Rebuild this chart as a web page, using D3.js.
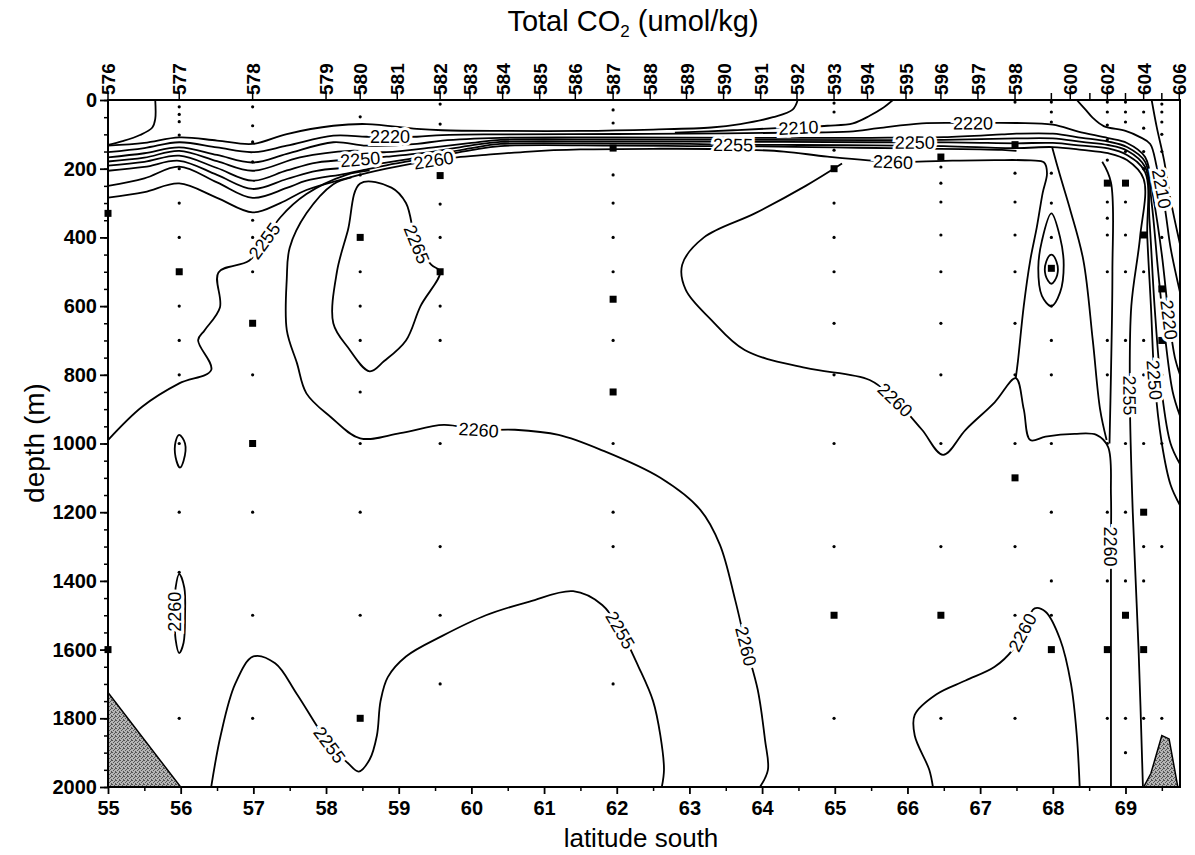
<!DOCTYPE html>
<html><head><meta charset="utf-8">
<script src="https://cdn.jsdelivr.net/npm/d3@7"></script>
<style>
body{margin:0;background:#fff;}
svg{font-family:"Liberation Sans",Arial,Helvetica,sans-serif;}
</style></head>
<body><svg id="c" width="1195" height="855"></svg>
<script>
// ---------------- data ----------------
const latTicks = d3.range(55, 70, 1);
const latMinor = d3.range(55.5, 70, 1);
const depthTicks = d3.range(0, 2001, 200);
const depthMinor = d3.range(0, 2001, 50);

const stationIds  = ["576","577","578","579","580","581","582","583","584","585","586","587","588","589","590","591","592","593","594","595","596","597","598","","600","","602","","604","","606"];
const stationLats = [55.0,55.98,56.99,58.0,58.47,58.98,59.57,59.98,60.43,60.94,61.43,61.95,62.46,62.96,63.47,63.98,64.48,64.99,65.45,65.98,66.46,66.97,67.48,67.98,68.24,68.51,68.75,69.0,69.25,69.5,69.74];

// sample depths (small dots) and larger square markers per sampled station
const sampleLats = [55.98,56.99,58.47,59.57,61.95,64.99,66.46,67.48,67.98,68.75,69.0,69.25,69.5];
const sampleDots = [
 [20,42,63,102,200,300,400,600,700,800,1000,1200,1375,1800],
 [20,75,122,180,350,400,500,800,1200,1500,1800],
 [49,218,500,600,700,850,1000,1200,1500],
 [12,70,303,400,600,700,1000,1300,1500,1700],
 [29,67,218,300,400,500,700,1000,1200,1300,1500,1700],
 [9,35,146,300,400,500,650,800,1000,1300,1800],
 [195,242,297,393,500,650,800,1000,1300,1800],
 [6,213,297,393,500,650,800,1000,1300,1500,1800],
 [6,35,64,213,300,400,600,700,800,1000,1200,1400,1500],
 [6,35,73,116,175,297,344,393,500,700,800,1000,1200,1400,1800],
 [6,35,64,150,297,393,500,700,1000,1200,1400,1800,1900],
 [35,82,150,200,500,700,800,1000,1300,1400,1800],
 [12,35,64,100,150,300,400,800,1000,1300,1800]
];
const squareLats   = [55.0,55.0,55.98,55.98,56.99,56.99,58.47,58.47,59.57,59.57,61.95,61.95,61.95,64.99,64.99,66.46,66.46,67.48,67.48,67.98,67.98,68.75,68.75,69.0,69.0,69.25,69.25,69.25,69.5,69.5];
const squareDepths = [330,1600,500,1500,650,1000,400,1800,220,500,140,580,850,200,1500,166,1500,130,1100,490,1600,242,1600,242,1500,393,1200,1600,550,700];

// contour lines: [lat, depth] vertices; lab = indices of labelled vertices
const contours = [
 {v:2200, p:[[55.65,0],[55.65,55],[55.61,80],[55.44,102],[55.2,120],[55,131]]},
 {v:2210, p:[[55,133],[55.5,125],[55.98,109],[56.5,118],[56.99,128],[57.46,99],[58.1,75],[58.56,70],[59.25,84],[59.6,88],[60.4,90],[61.5,90],[62.5,86],[63.3,80],[63.7,70],[64.15,50],[64.42,28],[64.49,0]]},
 {v:2210, p:[[62.8,95],[63.6,88],[64.2,82],[64.5,80],[64.9,75],[65.25,68],[65.48,46],[65.65,25],[65.8,0]], lab:[3]},
 {v:2220, p:[[55,152],[55.5,140],[55.98,123],[56.5,138],[56.99,152],[57.46,133],[58.1,104],[58.56,107],[58.88,107],[59.25,107],[59.6,102],[60.4,100],[62,99],[63.5,97],[64.5,95],[65.2,92],[65.6,82],[66.2,68],[66.9,67],[67.5,67],[68.0,72],[68.35,92],[68.76,111],[69.02,125],[69.27,166],[69.38,280],[69.5,450],[69.6,640],[69.68,750],[69.75,800]], lab:[8,18,27]},
 {v:2230, p:[[55,167],[55.5,155],[55.98,138],[56.5,160],[56.99,182],[57.46,157],[58.1,123],[58.56,133],[59.25,128],[59.6,118],[60.4,110],[62,109],[64,110],[65.5,110],[66.5,108],[67.3,100],[67.5,98],[68.0,98],[68.4,110],[68.76,121],[69.02,137],[69.27,180],[69.36,300],[69.45,500],[69.55,700],[69.65,850],[69.75,920]]},
 {v:2240, p:[[55,179],[55.5,168],[55.98,148],[56.5,178],[56.99,206],[57.64,167],[58.33,148],[58.83,152],[59.48,138],[60,125],[60.4,116],[62,115],[64,116],[65.5,117],[66.5,116],[67.5,112],[68.0,112],[68.4,122],[68.76,131],[69.02,147],[69.27,195],[69.33,350],[69.4,600],[69.5,850],[69.62,1000],[69.75,1060]]},
 {v:2250, p:[[55,191],[55.5,180],[55.98,162],[56.5,198],[56.99,235],[57.46,205],[57.87,182],[58.47,172],[58.83,165],[59.48,150],[60,132],[60.4,122],[62,121],[64,122],[65.5,123],[66.1,123],[66.8,124],[67.5,126],[68.0,125],[68.4,133],[68.76,141],[69.02,160],[69.27,210],[69.3,400],[69.35,600],[69.4,815],[69.5,1000],[69.62,1120],[69.75,1180]], lab:[7,15,25]},
 {v:2255, p:[[55,206],[55.5,195],[55.98,177],[56.5,218],[56.99,259],[57.46,230],[57.87,206],[58.33,196],[58.83,182],[59.48,160],[60,140],[60.4,128],[62,127],[63.0,128],[63.6,130],[64.5,131],[65.5,132],[66.5,134],[67.5,140],[68.0,137],[68.4,145],[68.76,155],[69.02,175],[69.25,230],[69.2,400],[69.08,600],[69.06,860],[69.1,1200],[69.18,1600],[69.24,2000]], lab:[14,26]},
 {v:2255, p:[[55,250],[55.5,228],[55.98,194],[56.5,240],[56.99,285],[57.46,256],[57.73,235],[58.28,214],[58.83,190],[59.48,166],[60,146],[60.4,134],[62,133],[63,134],[64,135],[65,138],[66,141],[67.3,145],[67.5,148]]},
 {v:2260, p:[[55,284],[55.5,268],[55.98,243],[56.5,285],[56.99,327],[57.37,300],[57.73,262],[58.28,228],[58.83,200],[59.48,175],[59.8,167],[60.2,160],[60.8,150],[61.5,144],[62.5,142],[63.5,143],[64.3,150],[64.9,165],[65.8,180],[66.5,177],[67.2,175],[67.7,176],[67.88,182],[67.92,213],[67.86,271],[67.78,370],[67.69,466],[67.6,600],[67.52,760],[67.49,810]], lab:[9,18]},
 {v:2255, p:[[55,990],[55.47,893],[55.98,825],[56.42,786],[56.24,699],[56.33,670],[56.54,604],[56.52,502],[56.94,468],[57.15,410],[57.37,342],[57.73,274],[58.28,218],[58.6,205]], lab:[9]},
 {v:2260, p:[[58.35,225],[58.1,245],[57.73,330],[57.5,430],[57.46,520],[57.46,670],[57.6,766],[57.73,854],[58.06,922],[58.47,985],[59.02,970],[59.62,946],[60.1,960],[60.6,960],[61.2,975],[61.8,1020],[62.6,1100],[63.15,1193],[63.42,1295],[63.63,1456],[63.78,1590],[63.94,1717],[64.04,1863],[64.08,1950],[63.97,2000]], lab:[12,20]},
 {v:2265, closed:true, p:[[58.47,243],[58.9,255],[59.1,300],[59.25,420],[59.45,480],[59.57,500],[59.3,600],[59.1,700],[58.8,760],[58.6,790],[58.3,720],[58.1,650],[58.15,500],[58.3,380]], lab:[3]},
 {v:2255, closed:true, p:[[55.98,975],[56.06,1000],[56.04,1050],[55.99,1070],[55.93,1040],[55.93,995]]},
 {v:2260, closed:true, p:[[55.98,1380],[56.05,1420],[56.06,1500],[56.04,1580],[55.98,1610],[55.93,1570],[55.92,1490],[55.93,1420]], lab:[6]},
 {v:2255, p:[[56.42,2000],[56.55,1850],[56.75,1700],[57.0,1620],[57.3,1640],[57.6,1730],[58.05,1877],[58.3,1930],[58.45,1955],[58.6,1920],[58.7,1850],[58.75,1750],[58.85,1680],[59.1,1620],[59.6,1560],[60.2,1500],[60.8,1460],[61.4,1430],[61.8,1470],[62.05,1543],[62.3,1650],[62.5,1750],[62.6,1850],[62.65,1950],[62.62,2000]], lab:[6,19]},
 {v:2260, p:[[65.1,185],[64.6,250],[63.9,330],[63.2,400],[62.9,480],[62.95,553],[63.3,640],[63.76,728],[64.6,780],[65.48,815],[65.83,873],[66.2,960],[66.49,1033],[66.8,960],[67.2,880],[67.49,810],[67.6,900],[67.69,990],[67.9,980],[68.3,972],[68.6,975],[68.76,1010],[68.8,1150],[68.8,1300],[68.8,1600],[68.8,2000]], lab:[10,23]},
 {v:2260, p:[[67.99,137],[68.1,220],[68.24,320],[68.42,466],[68.55,700],[68.65,900],[68.74,990]]},
 {v:2260, p:[[68.68,180],[68.8,240],[68.82,500],[68.8,800],[68.78,1000]]},
 {v:2260, p:[[66.35,2000],[66.3,1950],[66.1,1850],[66.1,1790],[66.4,1730],[66.8,1690],[67.2,1650],[67.45,1600],[67.58,1550],[67.75,1480],[67.9,1490],[68.1,1570],[68.25,1700],[68.33,1850],[68.37,2000]], lab:[8]},
 {v:2265, closed:true, p:[[67.98,330],[68.1,400],[68.15,480],[68.1,560],[67.98,600],[67.85,570],[67.8,490],[67.85,410]]},
 {v:2270, closed:true, p:[[67.98,450],[68.05,470],[68.06,510],[67.98,535],[67.9,510],[67.91,470]]},
 {v:2210, p:[[68.33,0],[68.45,28],[68.55,52],[68.7,76],[69.0,90],[69.2,108],[69.34,128],[69.43,195],[69.5,258],[69.56,340],[69.62,430],[69.75,560]], lab:[8]},
 {v:2200, p:[[69.36,0],[69.43,79],[69.53,175],[69.62,290],[69.75,420]]}
];

// bottom topography (shaded)
const bottomLeft  = [[55,1725],[55,2000],[56.0,2000]];
const bottomRight = [[69.25,2000],[69.35,1960],[69.5,1850],[69.6,1860],[69.72,2000]];

// ---------------- drawing ----------------
const svg = d3.select("#c");
const x = d3.scaleLinear().domain([55, 69.75]).range([108, 1180]);
const y = d3.scaleLinear().domain([0, 2000]).range([100, 787]);
const FONT = '"Liberation Sans",Arial,Helvetica,sans-serif';

const defs = svg.append("defs");
const pat = defs.append("pattern").attr("id","stip").attr("width",4).attr("height",4).attr("patternUnits","userSpaceOnUse");
pat.append("rect").attr("width",4).attr("height",4).attr("fill","#b4b4b4");
[[0,0],[2,1],[1,2],[3,3],[3,0]].forEach(([a,b])=>pat.append("rect").attr("x",a).attr("y",b).attr("width",1).attr("height",1).attr("fill","#555"));
defs.append("clipPath").attr("id","clip").append("rect").attr("x",108).attr("y",100).attr("width",1072).attr("height",687);

const plot = svg.append("g").attr("clip-path","url(#clip)");
const poly = d3.line().x(d=>x(d[0])).y(d=>y(d[1]));
[bottomLeft, bottomRight].forEach(b=>{
  plot.append("path").attr("d", poly(b)+"Z").attr("fill","url(#stip)").attr("stroke","#000").attr("stroke-width",1.5);
});

const lineOpen = d3.line().x(d=>x(d[0])).y(d=>y(d[1])).curve(d3.curveCatmullRom.alpha(0.5));
const lineClosed = d3.line().x(d=>x(d[0])).y(d=>y(d[1])).curve(d3.curveCatmullRomClosed.alpha(0.5));
plot.selectAll("path.ct").data(contours).join("path").attr("class","ct")
  .attr("d", d=> d.closed ? lineClosed(d.p) : lineOpen(d.p))
  .attr("fill","none").attr("stroke","#000").attr("stroke-width",1.8).attr("stroke-linejoin","round");

// sample dots
sampleLats.forEach((lat,i)=>{
  plot.selectAll(null).data(sampleDots[i]).join("circle")
    .attr("cx", x(lat)).attr("cy", d=>y(d)).attr("r",1.6).attr("fill","#000");
});
// squares
const sq = squareLats.map((l,i)=>[l, squareDepths[i]]);
svg.append("g").selectAll("rect").data(sq).join("rect")
  .attr("x", d=>x(d[0])-3.5).attr("y", d=>y(d[1])-3.5).attr("width",7).attr("height",7).attr("fill","#000");

// contour labels
const labG = svg.append("g");
contours.forEach(c=>{
  (c.lab||[]).forEach(i=>{
    const n=c.p.length;
    const a = c.p[(i-1+n)%n], b = c.p[(i+1)%n], m = c.p[i];
    let ang = Math.atan2(y(b[1])-y(a[1]), x(b[0])-x(a[0]))*180/Math.PI;
    if (ang>90) ang-=180; if (ang<-90) ang+=180;
    labG.append("text").attr("transform",`translate(${x(m[0])},${y(m[1])}) rotate(${ang})`)
      .attr("text-anchor","middle").attr("dy","0.36em")
      .attr("font-size",18).attr("font-family",FONT)
      .attr("fill","#000").attr("stroke","#fff").attr("stroke-width",6).attr("paint-order","stroke")
      .text(c.v);
  });
});

// frame
svg.append("rect").attr("x",108).attr("y",100).attr("width",1072).attr("height",687)
  .attr("fill","none").attr("stroke","#000").attr("stroke-width",2);

// bottom axis
const bx = svg.append("g").attr("transform","translate(0,787)")
  .call(d3.axisBottom(x).tickValues(latTicks).tickSize(7).tickFormat(d3.format("d")));
bx.select(".domain").remove();
bx.selectAll("text").attr("font-size",20).attr("font-weight","bold").attr("font-family",FONT)
  .attr("y",28).attr("dy",0).attr("fill","#000");
bx.selectAll("line").attr("stroke-width",1.8);
svg.append("g").attr("transform","translate(0,787)").call(d3.axisBottom(x).tickValues(latMinor).tickSize(4).tickFormat(""))
  .call(g=>g.select(".domain").remove()).selectAll("line").attr("stroke-width",1.5);

// left axis
const ly = svg.append("g").attr("transform","translate(108,0)")
  .call(d3.axisLeft(y).tickValues(depthTicks).tickSize(8).tickFormat(d3.format("d")));
ly.select(".domain").remove();
ly.selectAll("text").attr("font-size",20).attr("font-weight","bold").attr("font-family",FONT).attr("fill","#000");
ly.selectAll("line").attr("stroke-width",1.8);
svg.append("g").attr("transform","translate(108,0)").call(d3.axisLeft(y).tickValues(depthMinor).tickSize(4).tickFormat(""))
  .call(g=>g.select(".domain").remove()).selectAll("line").attr("stroke-width",1.5);

// top axis: station numbers
const tg = svg.append("g");
tg.selectAll("line").data(stationLats).join("line")
  .attr("x1",d=>x(d)).attr("x2",d=>x(d)).attr("y1",100).attr("y2",93).attr("stroke","#000").attr("stroke-width",1.5);
tg.selectAll("text").data(stationLats).join("text")
  .attr("transform",(d)=>`translate(${x(d)+7},95) rotate(-90)`)
  .attr("text-anchor","start").attr("font-size",19).attr("font-weight","bold").attr("font-family",FONT)
  .text((d,i)=>stationIds[i]);

// titles
const t = svg.append("text").attr("x",633).attr("y",31).attr("text-anchor","middle")
  .attr("font-size",29).attr("font-family",FONT);
t.append("tspan").text("Total CO");
t.append("tspan").attr("font-size",17).attr("dy",6).text("2");
t.append("tspan").attr("dy",-6).text(" (umol/kg)");
svg.append("text").attr("x",641).attr("y",847).attr("text-anchor","middle")
  .attr("font-size",26).attr("font-family",FONT).text("latitude south");
svg.append("text").attr("transform","translate(44,443) rotate(-90)").attr("text-anchor","middle")
  .attr("font-size",28).attr("font-family",FONT).text("depth (m)");
</script></body></html>
